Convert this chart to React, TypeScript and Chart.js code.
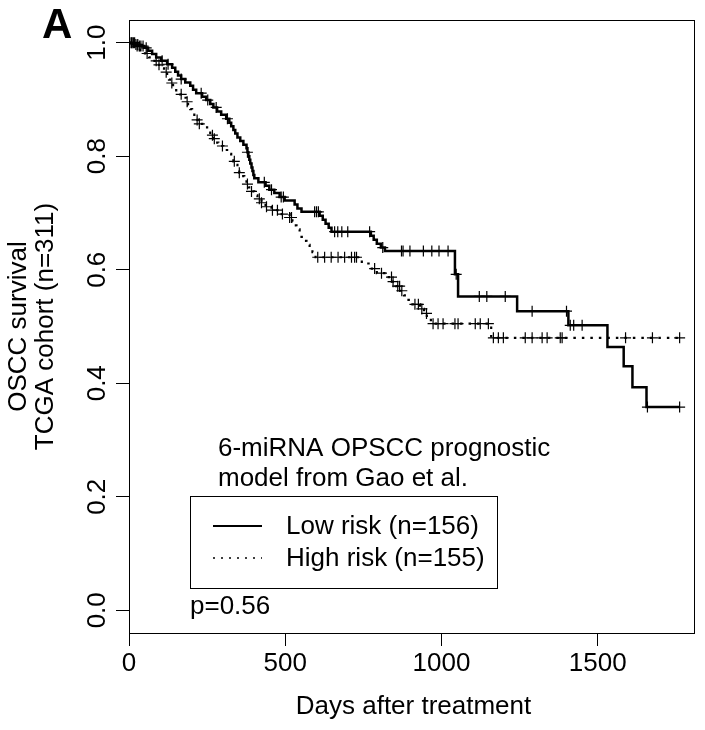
import React, { useEffect, useRef } from "react";
import { Chart, registerables } from "chart.js";

Chart.register(...registerables);

// ---- Axis ticks ----
const xTickValues = [0, 500, 1000, 1500];
const yTickValues = [0, 0.2, 0.4, 0.6, 0.8, 1.0];
const xMin = 0;
const xMax = 1808;
const yMin = -0.04;
const yMax = 1.04;

// ---- Low risk group (solid) : event days and survival after each event ----
const lowEventDays = [16, 32, 48, 61, 74, 87, 103, 122, 138, 148, 157, 167, 180, 196, 205, 215, 234, 247, 260, 270, 282, 295, 311, 321, 327, 334, 340, 347, 356, 366, 376, 379, 382, 385, 388, 392, 395, 398, 401, 414, 437, 449, 465, 482, 498, 530, 539, 552, 610, 620, 629, 639, 648, 774, 783, 793, 806, 819, 1043, 1053, 1242, 1406, 1531, 1583, 1611, 1656];
const lowSurvival = [0.997, 0.994, 0.991, 0.986, 0.98, 0.974, 0.968, 0.962, 0.956, 0.949, 0.942, 0.936, 0.93, 0.924, 0.917, 0.911, 0.905, 0.899, 0.892, 0.886, 0.879, 0.873, 0.866, 0.859, 0.853, 0.846, 0.84, 0.833, 0.827, 0.82, 0.814, 0.807, 0.8, 0.794, 0.787, 0.78, 0.774, 0.767, 0.761, 0.754, 0.748, 0.741, 0.735, 0.728, 0.722, 0.715, 0.708, 0.702, 0.695, 0.688, 0.681, 0.674, 0.667, 0.66, 0.653, 0.646, 0.639, 0.633, 0.592, 0.553, 0.527, 0.502, 0.464, 0.43, 0.393, 0.358];
const lowCensorDays = [3, 8, 14, 22, 28, 38, 45, 55, 106, 125, 167, 231, 252, 279, 315, 379, 433, 456, 487, 494, 594, 600, 606, 658, 668, 681, 700, 770, 812, 872, 877, 899, 942, 969, 992, 1021, 1047, 1121, 1145, 1204, 1290, 1400, 1412, 1423, 1450, 1659, 1762];

// ---- High risk group (dotted) ----
const highEventDays = [19, 35, 51, 64, 77, 90, 103, 112, 122, 128, 135, 141, 151, 164, 173, 183, 189, 196, 202, 209, 215, 221, 241, 250, 260, 270, 276, 286, 302, 321, 327, 334, 340, 347, 353, 359, 369, 376, 382, 392, 401, 411, 424, 437, 456, 482, 514, 523, 530, 536, 546, 552, 559, 568, 578, 587, 597, 745, 777, 793, 822, 841, 854, 867, 880, 889, 902, 931, 944, 953, 966, 1159];
const highSurvival = [0.994, 0.987, 0.981, 0.974, 0.968, 0.961, 0.955, 0.948, 0.942, 0.935, 0.929, 0.922, 0.916, 0.909, 0.903, 0.896, 0.89, 0.883, 0.877, 0.87, 0.864, 0.857, 0.851, 0.844, 0.837, 0.831, 0.824, 0.818, 0.811, 0.804, 0.798, 0.791, 0.785, 0.778, 0.771, 0.765, 0.758, 0.751, 0.745, 0.738, 0.731, 0.725, 0.718, 0.711, 0.705, 0.698, 0.692, 0.685, 0.678, 0.671, 0.665, 0.658, 0.651, 0.644, 0.638, 0.631, 0.622, 0.611, 0.602, 0.594, 0.587, 0.579, 0.571, 0.563, 0.555, 0.547, 0.539, 0.531, 0.523, 0.514, 0.505, 0.48];
const highCensorDays = [10, 18, 26, 33, 58, 87, 96, 119, 137, 167, 186, 218, 225, 267, 273, 299, 337, 353, 379, 392, 417, 424, 440, 459, 475, 491, 514, 520, 604, 626, 647, 669, 690, 712, 722, 728, 786, 808, 840, 845, 860, 866, 873, 915, 926, 937, 952, 973, 989, 1005, 1043, 1053, 1108, 1124, 1150, 1166, 1182, 1198, 1268, 1290, 1322, 1338, 1380, 1386, 1589, 1675, 1762];

// ---- Texts ----
const panelLabel = "A";
const yTitleLines = ["OSCC survival", "TCGA cohort (n=311)"];
const xTitle = "Days after treatment";
const noteLines = ["6-miRNA OPSCC prognostic", "model from Gao et al."];
const legendLabels = ["Low risk (n=156)", "High risk (n=155)"];
const pText = "p=0.56";

const FONT = "'Liberation Sans', Arial, sans-serif";

function survAt(days: number[], surv: number[], t: number): number {
  let s = 1;
  for (let i = 0; i < days.length; i++) {
    if (days[i] <= t) s = surv[i];
    else break;
  }
  return s;
}

function stepPoints(days: number[], surv: number[], censors: number[]) {
  const pts = [{ x: 0, y: 1 }];
  days.forEach((d, i) => pts.push({ x: d, y: surv[i] }));
  const lastT = Math.max(days[days.length - 1], ...censors);
  pts.push({ x: lastT, y: surv[surv.length - 1] });
  return pts;
}

function censorPoints(days: number[], surv: number[], censors: number[]) {
  return censors.map((c) => ({ x: c, y: survAt(days, surv, c) }));
}

const decorPlugin = {
  id: "decor",
  afterDraw(chart: any) {
    const { ctx, chartArea: a, scales } = chart;
    const xs = scales.x;
    const ys = scales.y;
    ctx.save();
    ctx.strokeStyle = "#000";
    ctx.fillStyle = "#000";
    ctx.lineWidth = 1;
    ctx.setLineDash([]);
    ctx.strokeRect(Math.round(a.left) + 0.5, Math.round(a.top) + 0.5, a.right - a.left, a.bottom - a.top);

    // Panel label
    ctx.font = `bold 42px ${FONT}`;
    ctx.textAlign = "left";
    ctx.textBaseline = "alphabetic";
    ctx.fillText(panelLabel, 42, 38);

    ctx.font = `26px ${FONT}`;
    // Y tick labels (rotated)
    ctx.textAlign = "center";
    ctx.textBaseline = "middle";
    yTickValues.forEach((v) => {
      const y = ys.getPixelForValue(v);
      ctx.save();
      ctx.translate(98, y);
      ctx.rotate(-Math.PI / 2);
      ctx.fillText(v.toFixed(1), 0, 0);
      ctx.restore();
    });
    // Y title
    const cy = (a.top + a.bottom) / 2;
    [19, 46].forEach((x, i) => {
      ctx.save();
      ctx.translate(x, cy);
      ctx.rotate(-Math.PI / 2);
      ctx.fillText(yTitleLines[i], 0, 0);
      ctx.restore();
    });
    // X tick labels
    xTickValues.forEach((v) => {
      ctx.fillText(String(v), xs.getPixelForValue(v), 664);
    });
    // X title
    ctx.fillText(xTitle, (a.left + a.right) / 2 + 2, 707);

    // Note
    ctx.textAlign = "left";
    ctx.fillText(noteLines[0], 218, 449);
    ctx.fillText(noteLines[1], 218, 479);

    // Legend box
    ctx.lineWidth = 1;
    ctx.strokeRect(190.5, 496.5, 307, 92);
    ctx.beginPath();
    ctx.lineWidth = 2;
    ctx.moveTo(213, 526);
    ctx.lineTo(262, 526);
    ctx.stroke();
    ctx.beginPath();
    ctx.lineWidth = 1.5;
    ctx.setLineDash([2, 6]);
    ctx.moveTo(213, 558);
    ctx.lineTo(262, 558);
    ctx.stroke();
    ctx.setLineDash([]);
    ctx.fillText(legendLabels[0], 286, 527);
    ctx.fillText(legendLabels[1], 286, 559);

    // p value
    ctx.fillText(pText, 190, 607);
    ctx.restore();
  },
};

export default function App() {
  const ref = useRef<HTMLCanvasElement | null>(null);
  useEffect(() => {
    if (!ref.current) return;
    const chart = new Chart(ref.current, {
      type: "line",
      data: {
        datasets: [
          {
            label: legendLabels[0],
            data: stepPoints(lowEventDays, lowSurvival, lowCensorDays),
            borderColor: "#000",
            borderWidth: 2.5,
            stepped: true,
            pointRadius: 0,
            fill: false,
          },
          {
            label: legendLabels[1],
            data: stepPoints(highEventDays, highSurvival, highCensorDays),
            borderColor: "#000",
            borderWidth: 2.2,
            borderDash: [2.5, 6],
            stepped: true,
            pointRadius: 0,
            fill: false,
          },
          {
            label: "low censored",
            data: censorPoints(lowEventDays, lowSurvival, lowCensorDays),
            showLine: false,
            pointStyle: "cross",
            pointRadius: 5.5,
            pointBorderWidth: 1.2,
            pointBorderColor: "#000",
            borderColor: "#000",
          },
          {
            label: "high censored",
            data: censorPoints(highEventDays, highSurvival, highCensorDays),
            showLine: false,
            pointStyle: "cross",
            pointRadius: 5.5,
            pointBorderWidth: 1.2,
            pointBorderColor: "#000",
            borderColor: "#000",
          },
        ],
      },
      options: {
        animation: false,
        responsive: false,
        devicePixelRatio: 1,
        layout: { padding: { left: 0, right: 11, top: 20, bottom: 0 } },
        plugins: { legend: { display: false }, tooltip: { enabled: false } },
        scales: {
          x: {
            type: "linear",
            min: xMin,
            max: xMax,
            afterBuildTicks: (s: any) => {
              s.ticks = xTickValues.map((v) => ({ value: v }));
            },
            afterFit: (s: any) => {
              s.height = 97;
            },
            ticks: { display: false },
            grid: { drawOnChartArea: false, drawTicks: true, tickLength: 13, color: "#000", lineWidth: 1 },
            border: { display: false },
          },
          y: {
            type: "linear",
            min: yMin,
            max: yMax,
            afterBuildTicks: (s: any) => {
              s.ticks = yTickValues.map((v) => ({ value: v }));
            },
            afterFit: (s: any) => {
              s.width = 129;
            },
            ticks: { display: false },
            grid: { drawOnChartArea: false, drawTicks: true, tickLength: 13, color: "#000", lineWidth: 1 },
            border: { display: false },
          },
        },
      },
      plugins: [decorPlugin],
    });
    return () => chart.destroy();
  }, []);
  return (
    <div style={{ position: "fixed", left: 0, top: 0, width: 705, height: 730, background: "#fff" }}>
      <canvas ref={ref} width={705} height={730} style={{ display: "block" }} />
    </div>
  );
}
